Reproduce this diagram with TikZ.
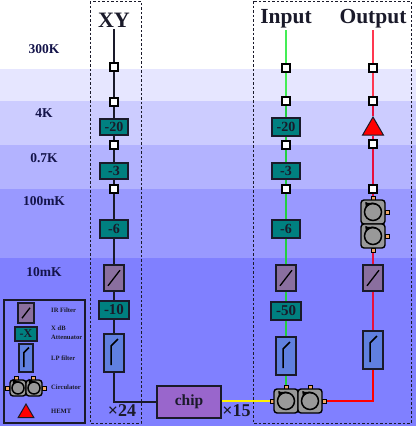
\documentclass[tikz,border=0pt]{standalone}
\usepackage{fontspec}
\setmainfont{Liberation Serif}
\usepackage{xcolor}
\usetikzlibrary{arrows.meta, calc, shapes, backgrounds}
\definecolor{bandA}{HTML}{E6E6FF}
\definecolor{bandB}{HTML}{CCCCFF}
\definecolor{bandC}{HTML}{B3B3FF}
\definecolor{bandD}{HTML}{9999FF}
\definecolor{bandE}{HTML}{8080FF}
\definecolor{inkdark}{HTML}{1A1A2A}
\definecolor{templabel}{HTML}{14144A}
\definecolor{attnteal}{HTML}{008080}
\definecolor{irpurple}{HTML}{8A6F9F}
\definecolor{lpblue}{HTML}{6080E0}
\definecolor{chipviolet}{HTML}{9966CC}
\definecolor{padorange}{HTML}{F0A868}
\definecolor{inputgreen}{HTML}{22D040}
\definecolor{inputlight}{HTML}{44EE55}
\definecolor{outputred}{HTML}{E8103C}
\definecolor{outputlight}{HTML}{FF3850}
\newcommand{\fsize}[1]{\fontsize{#1}{#1}\selectfont\bfseries}
\tikzset{
    pad/.style={draw=black, fill=white, line width=1.3pt, minimum size=8pt, inner sep=0pt},
    attn/.style={draw=inkdark, fill=attnteal, line width=1.4pt, inner sep=0pt, text=inkdark, font=\fsize{14}},
    irfilt/.style={draw=inkdark, fill=irpurple, line width=1.4pt, inner sep=0pt, minimum width=20pt, minimum height=26pt},
    lpfilt/.style={draw=inkdark, fill=lpblue, line width=1.4pt, inner sep=0pt, minimum width=20pt, minimum height=38pt},
    circu/.style={draw=black, fill=black!40, line width=1.4pt, rounded corners=3pt, inner sep=0pt, minimum size=24pt},
    port/.style={draw=black, fill=padorange, line width=1pt, inner sep=0pt, minimum size=4pt},
    hemt/.style={regular polygon, regular polygon sides=3, draw=inkdark, fill=red, line width=1pt, inner sep=0pt, minimum size=24pt},
    temp/.style={text=templabel, font=\fsize{13.5}},
    legtext/.style={anchor=west, text=inkdark, inner sep=0pt, font=\fsize{6.6}},
    wire/.style={line width=1.4pt, draw=inkdark},
    zonebox/.style={draw=inkdark, dash pattern=on 2.5pt off 2pt, line width=1pt},
}
% glyphs that go inside the boxes
\newcommand{\irglyph}[2]{\draw[line width=1.3pt, black] ($(#1)+(-#2,1.3*#2)$) -- ($(#1)+(#2,-1.3*#2)$);}
\newcommand{\lpglyph}[2]{\draw[line width=1.5pt, black] ($(#1)+(-3*#2,12*#2)$) -- ($(#1)+(-3*#2,-7*#2)$) -- ($(#1)+(4*#2,-14*#2)$);}
\newcommand{\circglyph}[2]{
    \draw[line width=1.5pt, black] (#1) circle[radius=#2];
    \draw[line width=1.5pt, black, -{Latex[length=6pt, width=6pt]}] ($(#1)+(290:#2)$) arc[start angle=290, end angle=205, radius=#2];
}
\begin{document}
\begin{tikzpicture}[x=1pt, y=-1pt]
    \useasboundingbox (0,0) rectangle (416,426);

    % Titoli
    \node[text=inkdark, font=\fsize{22}] (titlexy) at (114,20) {XY};
    \node[text=inkdark, font=\fsize{21.5}] (titlein) at (286,19) {Input};
    \node[text=inkdark, font=\fsize{21.5}] (titleout) at (373,19) {Output};
    \coordinate (topxy) at (114,29);
    \coordinate (topin) at (286,30);
    \coordinate (topout) at (373,30);

    % Temperature
    \node[temp] (t300k) at (44,49) {300K};
    \node[temp] (t4k) at (44,113) {4K};
    \node[temp] (t07k) at (44,158) {0.7K};
    \node[temp] (t100mk) at (44,201) {100mK};
    \node[temp] (t10mk) at (44,272) {10mK};

    % Colonna XY
    \node[pad] (xyA) at (114,67) {};
    \node[pad] (xyB) at (114,102) {};
    \node[attn, minimum width=28pt, minimum height=16pt] (xyC) at (114,127) {-20};
    \node[pad] (xyD) at (114,145) {};
    \node[attn, minimum width=28pt, minimum height=16pt] (xyE) at (114,171) {-3};
    \node[pad] (xyF) at (114,189) {};
    \node[attn, minimum width=28pt, minimum height=18pt] (xyG) at (114,229) {-6};
    \node[irfilt] (xyH) at (114,278) {};
    \node[attn, minimum width=30pt, minimum height=18pt, font=\fsize{15}] (xyI) at (114,310) {-10};
    \node[lpfilt] (xyJ) at (114,353) {};
    \irglyph{xyH}{6}
    \lpglyph{xyJ}{1}

    % Colonna Input
    \node[pad] (inA) at (286,68) {};
    \node[pad] (inB) at (286,101) {};
    \node[attn, minimum width=28pt, minimum height=18pt] (inC) at (286,127) {-20};
    \node[pad] (inD) at (286,145) {};
    \node[attn, minimum width=28pt, minimum height=16pt] (inE) at (286,171) {-3};
    \node[pad] (inF) at (286,189) {};
    \node[attn, minimum width=28pt, minimum height=18pt] (inG) at (286,229) {-6};
    \node[irfilt] (inH) at (286,278) {};
    \node[attn, minimum width=30pt, minimum height=18pt, font=\fsize{15}] (inI) at (286,311) {-50};
    \node[lpfilt] (inJ) at (286,356) {};
    \irglyph{inH}{6}
    \lpglyph{inJ}{1}

    % Colonna Output
    \node[pad] (outA) at (373,68) {};
    \node[pad] (outB) at (373,101) {};
    \node[hemt] (outC) at (373,129) {};
    \node[pad] (outD) at (373,144) {};
    \node[pad] (outE) at (373,189) {};
    \node[port] (outPa) at (373,198) {};
    \node[port] (outPb) at (387,212) {};
    \node[port] (outPc) at (387,236) {};
    \node[port] (outPd) at (373,250) {};
    \node[circu] (outF) at (373,212) {};
    \node[circu] (outG) at (373,236) {};
    \circglyph{outF}{8.5}
    \circglyph{outG}{8.5}
    \node[irfilt] (outH) at (373,278) {};
    \node[lpfilt] (outJ) at (373,350) {};
    \irglyph{outH}{6}
    \lpglyph{outJ}{1}

    % Chip e circolatori in basso
    \node[draw=inkdark, fill=chipviolet, line width=1.4pt, inner sep=0pt, minimum width=64pt, minimum height=32pt, text=inkdark, font=\fsize{15.5}] (chip) at (189,402) {chip};
    \node[port] (botPa) at (272,401) {};
    \node[port] (botPb) at (286,387) {};
    \node[port] (botPc) at (310,387) {};
    \node[port] (botPd) at (324,401) {};
    \node[circu] (botA) at (286,401) {};
    \node[circu] (botB) at (310,401) {};
    \circglyph{botA}{8.5}
    \circglyph{botB}{8.5}
    \node[text=inkdark, font=\fsize{18}] (nxy) at (122,411) {×24};
    \node[text=inkdark, font=\fsize{18}] (nchip) at (236.5,411) {×15};

    % Legenda
    \node[irfilt, minimum width=16pt, minimum height=20pt] (legIR) at (26,313) {};
    \node[attn, minimum width=22pt, minimum height=14pt, font=\fsize{12}] (legX) at (26,334) {-X};
    \node[lpfilt, minimum width=14pt, minimum height=28pt] (legLP) at (26,358) {};
    \node[port] (legPa) at (7,388) {};
    \node[port] (legPb) at (16,378) {};
    \node[port] (legPc) at (33,378) {};
    \node[port] (legPd) at (44,388) {};
    \node[circu, minimum size=16pt] (legA) at (18,388) {};
    \node[circu, minimum size=16pt] (legB) at (34,388) {};
    \node[hemt, minimum size=18pt] (legH) at (26,413) {};
    \irglyph{legIR}{4}
    \lpglyph{legLP}{.75}
    \circglyph{legA}{6}
    \circglyph{legB}{6}
    \node[legtext] (txtIR) at (51,310) {IR Filter};
    \node[legtext] (txtXa) at (51,328.5) {X dB};
    \node[legtext] (txtXb) at (51,337.5) {Attenuator};
    \node[legtext] (txtLP) at (51,358.5) {LP filter};
    \node[legtext] (txtC) at (51,387) {Circulator};
    \node[legtext] (txtH) at (51,411) {HEMT};
    \draw[draw=inkdark, line width=1.4pt] (4,300) rectangle (85,423);

    % Riquadri tratteggiati
    \draw[zonebox] (90,1) rectangle (141,423);
    \draw[zonebox] (253,1) rectangle (411,423);

    \begin{scope}[on background layer]
        % Bande di temperatura
        \fill[bandA] (0,69) rectangle (416,101);
        \fill[bandB] (0,101) rectangle (416,145);
        \fill[bandC] (0,145) rectangle (416,189);
        \fill[bandD] (0,189) rectangle (416,258);
        \fill[bandE] (0,258) rectangle (416,426);

        % Fili
        \draw[wire] (topxy) -- (xyA) -- (xyB) -- (xyC) -- (xyD) -- (xyE) -- (xyF) -- (xyG) -- (xyH) -- (xyI) -- (xyJ);
        \draw[wire] (xyJ.south) |- (chip.west);
        \draw[wire, draw=inputlight] (topin) -- (inA) -- (inB);
        \draw[wire, draw=inputgreen] (inB) -- (inC) -- (inD) -- (inE) -- (inF) -- (inG) -- (inH) -- (inI) -- (inJ) -- (botPb);
        \draw[wire, draw=outputlight] (topout) -- (outA) -- (outB);
        \draw[wire, draw=outputred] (outB) -- (outC) -- (outD) -- (outE) -- (outPa);
        \draw[wire, draw=outputred] (outPd) -- (outH) -- (outJ);
        \draw[wire, draw=red] (outJ.south) |- (botPd.east);
        \draw[wire, draw=yellow] (chip.east |- botPa) -- (botPa);
    \end{scope}
\end{tikzpicture}
\end{document}
